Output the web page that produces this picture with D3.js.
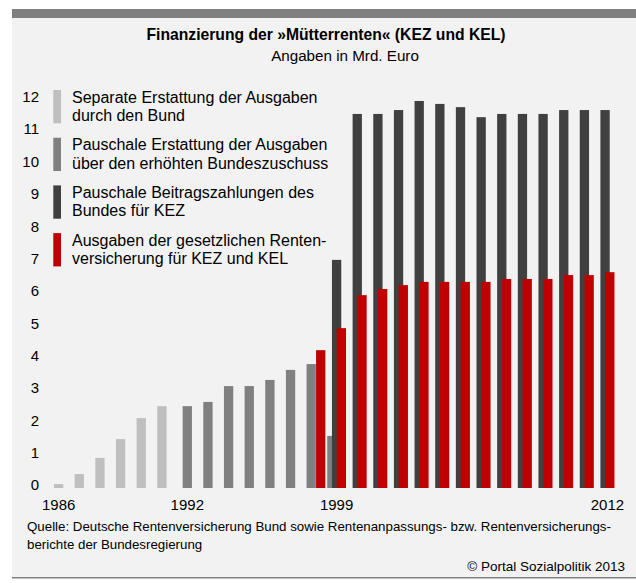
<!DOCTYPE html>
<html>
<head>
<meta charset="utf-8">
<script src="https://cdn.jsdelivr.net/npm/d3@7"></script>
<style>
  body { margin: 0; background: #fff; }
  text { font-family: "Liberation Sans", Arial, sans-serif; fill: #000; }
</style>
</head>
<body>
<div id="chart"></div>
<script>
// data (Mrd. Euro)
var years = d3.range(1986, 2013)
var separateBund = [0.12, 0.43, 0.93, 1.51, 2.16, 2.53]            // 1986-1991
var pauschalErstattung = [2.53, 2.66, 3.15, 3.15, 3.34, 3.65, 3.83, 1.61] // 1992-1999
var beitragBund = [7.05, 11.56, 11.56, 11.68, 11.96, 11.87, 11.77, 11.46, 11.56, 11.56, 11.56, 11.68, 11.68, 11.68] // 1999-2012
var ausgabenRV = [4.26, 4.94, 5.96, 6.15, 6.27, 6.37, 6.37, 6.37, 6.37, 6.46, 6.46, 6.46, 6.58, 6.58, 6.67] // 1998-2012
var yTicks = [0, 1, 2, 3, 4, 5, 6, 7, 8, 9, 10, 11, 12]
var xLabels = [1986, 1992, 1999, 2012]

var seriesNames = [
    ["Separate Erstattung der Ausgaben", "durch den Bund"],
    ["Pauschale Erstattung der Ausgaben", "über den erhöhten Bundeszuschuss"],
    ["Pauschale Beitragszahlungen des", "Bundes für KEZ"],
    ["Ausgaben der gesetzlichen Renten-", "versicherung für KEZ und KEL"]
]
var colors = ["#bfbfbf", "#808080", "#404040", "#c00000"]

// build series with their first year
var series = [
    { start: 1986, values: separateBund },
    { start: 1992, values: pauschalErstattung },
    { start: 1999, values: beitragBund },
    { start: 1998, values: ausgabenRV }
]

var W = 636, H = 583

var svg = d3.select("#chart")
    .append("svg")
    .attr("width", W)
    .attr("height", H)

// panel background and top band
svg.append("rect").attr("x", 12).attr("y", 9).attr("width", W - 12).attr("height", 569).attr("fill", "#f2f2f2")
svg.append("rect").attr("x", 12).attr("y", 9).attr("width", W - 12).attr("height", 9).attr("fill", "#808080")
svg.append("rect").attr("x", 12).attr("y", 577).attr("width", W - 12).attr("height", 1.5).attr("fill", "#808080")

// titles
svg.append("text").attr("x", 326).attr("y", 40).attr("text-anchor", "middle")
    .style("font-weight", "bold").style("font-size", "15.7px")
    .text("Finanzierung der »Mütterrenten« (KEZ und KEL)")
svg.append("text").attr("x", 345).attr("y", 61).attr("text-anchor", "middle")
    .style("font-size", "15.2px")
    .text("Angaben in Mrd. Euro")

// scales
var x = d3.scaleBand()
    .domain(years)
    .range([54, 54 + years.length * 20.65])

var y = d3.scaleLinear()
    .domain([0, 12])
    .range([488, 99.7])

var barW = 9.3, step = 4.75

// y labels
svg.append("g").selectAll("text")
    .data(yTicks)
    .enter()
    .append("text")
    .attr("x", 39)
    .attr("y", d => y(d) - 3)
    .attr("dy", "0.36em")
    .attr("text-anchor", "end")
    .style("font-size", "15px")
    .text(d => d)

// bars, series in order so later ones sit on top
series.forEach((s, k) => {
    svg.append("g").selectAll("rect")
        .data(s.values.map((v, i) => ({ year: s.start + i, value: v })))
        .enter()
        .append("rect")
        .attr("x", d => x(d.year) + k * step)
        .attr("y", d => y(d.value))
        .attr("width", barW)
        .attr("height", d => y(0) - y(d.value))
        .attr("fill", colors[k])
})

// x labels centered on the bars shown for that year
function labelX(year) {
    var ks = []
    series.forEach((s, k) => {
        var i = year - s.start
        if (i >= 0 && i < s.values.length) ks.push(k)
    })
    var lo = d3.min(ks) * step, hi = d3.max(ks) * step + barW
    return x(year) + (lo + hi) / 2
}
svg.append("g").selectAll("text")
    .data(xLabels)
    .enter()
    .append("text")
    .attr("x", d => labelX(d))
    .attr("y", 510)
    .attr("text-anchor", "middle")
    .style("font-size", "15px")
    .text(d => d)

// legend
var legend = svg.append("g").selectAll("g")
    .data(seriesNames)
    .enter()
    .append("g")
    .attr("transform", (d, i) => "translate(0," + (i * 47.7) + ")")

legend.append("rect")
    .attr("x", 53.3).attr("y", 90)
    .attr("width", 7.7).attr("height", 33.3)
    .attr("fill", (d, i) => colors[i])

legend.append("text")
    .attr("x", 72).attr("y", 97)
    .attr("dy", "0.36em")
    .style("font-size", "16px")
    .text(d => d[0])
legend.append("text")
    .attr("x", 72).attr("y", 115.3)
    .attr("dy", "0.36em")
    .style("font-size", "16px")
    .text(d => d[1])

// footer
svg.append("text").attr("x", 27).attr("y", 531).style("font-size", "13.3px")
    .text("Quelle: Deutsche Rentenversicherung Bund sowie Rentenanpassungs- bzw. Rentenversicherungs-")
svg.append("text").attr("x", 27).attr("y", 549).style("font-size", "13.3px")
    .text("berichte der Bundesregierung")
svg.append("text").attr("x", 625).attr("y", 571).attr("text-anchor", "end").style("font-size", "13.5px")
    .text("© Portal Sozialpolitik 2013")
</script>
</body>
</html>
